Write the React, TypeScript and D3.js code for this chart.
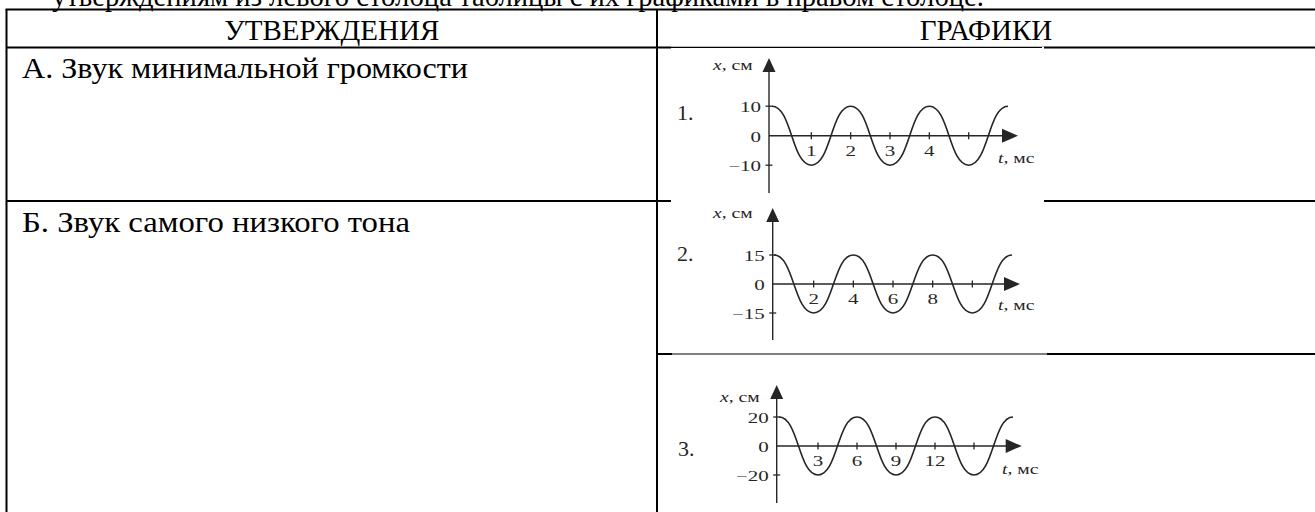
import React from 'react';
import * as d3 from 'd3';

const W = 1315;
const H = 512;

// тексты таблицы
const introLine = 'утверждениям из левого столбца таблицы с их графиками в правом столбце.';
const headerTitles = ['УТВЕРЖДЕНИЯ', 'ГРАФИКИ'];
const statements = ['А. Звук минимальной громкости', 'Б. Звук самого низкого тона'];

// данные графиков: экстремумы колебаний x(t)
const graphNames = ['1.', '2.', '3.'];
const amplitudes = [10, 15, 20];
const waveTimes1 = [0, 1, 2, 3, 4, 5, 6];
const waveValues1 = [10, -10, 10, -10, 10, -10, 10];
const waveTimes2 = [0, 2, 4, 6, 8, 10, 12];
const waveValues2 = [15, -15, 15, -15, 15, -15, 15];
const waveTimes3 = [0, 3, 6, 9, 12, 15, 18];
const waveValues3 = [20, -20, 20, -20, 20, -20, 20];
const timeTicks1 = [1, 2, 3, 4, 5];
const timeTicks2 = [2, 4, 6, 8, 10];
const timeTicks3 = [3, 6, 9, 12, 15];
const labelledTickCount = 4; // последнее деление без подписи
const axisNameX = 'x';
const axisUnitX = ', см';
const axisNameT = 't';
const axisUnitT = ', мс';

const waveTimes = [waveTimes1, waveTimes2, waveTimes3];
const waveValues = [waveValues1, waveValues2, waveValues3];
const timeTicks = [timeTicks1, timeTicks2, timeTicks3];

// расположение картинок-графиков (пиксели)
const boxes = [
  { left: 671, top: 46.5, right: 1044, bottom: 202, axisX: 769, t0: 772, t1: 1008, zeroY: 135.7, unit: 29.5, yTop: 58, yBottom: 193, xEnd: 1018, nameX: 677, nameY: 112, xLabX: 713, xLabY: 65, tLabX: 998, tLabY: 158 },
  { left: 671, top: 200, right: 1043, bottom: 353, axisX: 772.7, t0: 774, t1: 1012, zeroY: 284, unit: 29, yTop: 208, yBottom: 340, xEnd: 1020, nameX: 677, nameY: 253, xLabX: 713, xLabY: 213, tLabX: 998, tLabY: 305 },
  { left: 672, top: 353, right: 1047, bottom: 512, axisX: 776.7, t0: 779, t1: 1013, zeroY: 446, unit: 29, yTop: 385, yBottom: 503, xEnd: 1021.7, nameX: 678, nameY: 448, xLabX: 720, xLabY: 397, tLabX: 1002, tLabY: 469 },
];

const serif = '"Liberation Serif", "Times New Roman", serif';
const ink = '#262626';
const stretch = 1.4;

function Graph({ i }: { i: number }) {
  const b = boxes[i];
  const ts = waveTimes[i];
  const vs = waveValues[i];
  const A = amplitudes[i];
  const x = d3.scaleLinear().domain([0, ts[ts.length - 1]]).range([b.t0, b.t1]);
  const y = d3.scaleLinear().domain([-A, A]).range([b.zeroY + b.unit, b.zeroY - b.unit]);
  const line = d3
    .line<number>()
    .x((_, k) => x(ts[k]))
    .y((v) => y(v))
    .curve(d3.curveBumpX);
  const y0 = y(0);
  const yTicks = [A, 0, -A];
  const fmt = (v: number) => (v < 0 ? '\u2212' + Math.abs(v) : String(v));

  return (
    <g>
      <rect x={b.left} y={b.top} width={b.right - b.left} height={b.bottom - b.top} fill="#fff" />
      {/* оси */}
      <line x1={b.axisX} x2={b.axisX} y1={b.yTop + 10} y2={b.yBottom} stroke={ink} strokeWidth={1.4} />
      <polygon
        points={`${b.axisX},${b.yTop} ${b.axisX - 6.5},${b.yTop + 14} ${b.axisX + 6.5},${b.yTop + 14}`}
        fill={ink}
      />
      <line x1={b.axisX} x2={b.xEnd - 10} y1={y0} y2={y0} stroke={ink} strokeWidth={1.4} />
      <polygon
        points={`${b.xEnd},${y0} ${b.xEnd - 16},${y0 - 7} ${b.xEnd - 16},${y0 + 7}`}
        fill={ink}
      />
      {/* деления */}
      {timeTicks[i].map((t, k) => (
        <g key={'t' + t}>
          <line x1={x(t)} x2={x(t)} y1={y0 - 3.5} y2={y0 + 3.5} stroke={ink} strokeWidth={1.3} />
          {k < labelledTickCount && (
            <text
              transform={`translate(${x(t)},${y0 + 15}) scale(${stretch},1)`}
              textAnchor="middle"
              dominantBaseline="central"
              fontFamily={serif}
              fontSize={15}
              fill={ink}
            >
              {t}
            </text>
          )}
        </g>
      ))}
      {yTicks.map((v) => (
        <g key={'y' + v}>
          {v !== 0 && (
            <line x1={b.axisX - 3.5} x2={b.axisX + 3.5} y1={y(v)} y2={y(v)} stroke={ink} strokeWidth={1.3} />
          )}
          <text
            transform={`translate(${b.axisX - 8},${y(v) + 1}) scale(${stretch},1)`}
            textAnchor="end"
            dominantBaseline="central"
            fontFamily={serif}
            fontSize={15}
            fill={ink}
          >
            {fmt(v)}
          </text>
        </g>
      ))}
      {/* кривая */}
      <path d={line(vs) || ''} fill="none" stroke={ink} strokeWidth={1.6} />
      {/* подписи */}
      <text x={b.nameX} y={b.nameY} dominantBaseline="central" fontFamily={serif} fontSize={22} fill={ink}>
        {graphNames[i]}
      </text>
      <text
        transform={`translate(${b.xLabX},${b.xLabY}) scale(${stretch},1)`}
        dominantBaseline="central"
        fontFamily={serif}
        fontSize={14}
        fill={ink}
      >
        <tspan fontStyle="italic">{axisNameX}</tspan>
        {axisUnitX}
      </text>
      <text
        transform={`translate(${b.tLabX},${b.tLabY}) scale(${stretch},1)`}
        dominantBaseline="central"
        fontFamily={serif}
        fontSize={14}
        fill={ink}
      >
        <tspan fontStyle="italic">{axisNameT}</tspan>
        {axisUnitT}
      </text>
    </g>
  );
}

export default function App() {
  const left = 6.5;
  const mid = 657;
  const top = 9.5;
  const headBottom = 47.5;
  const rowAB = 201;
  const row23 = 354;

  return (
    <svg
      width={W}
      height={H}
      style={{ position: 'absolute', left: 0, top: 0, display: 'block', background: '#fff' }}
    >
      <text
        x={52}
        y={6}
        fontFamily={serif}
        fontSize={29}
        fill="#000"
        textLength={932}
        lengthAdjust="spacingAndGlyphs"
      >
        {introLine}
      </text>
      {/* сетка таблицы */}
      <g stroke="#000" strokeWidth={2}>
        <line x1={left - 1} x2={W} y1={top} y2={top} />
        <line x1={left} x2={left} y1={top} y2={H} />
        <line x1={mid} x2={mid} y1={top} y2={H} />
        <line x1={left} x2={W} y1={headBottom} y2={headBottom} />
        <line x1={left} x2={W} y1={rowAB} y2={rowAB} />
        <line x1={mid} x2={W} y1={row23} y2={row23} />
      </g>
      <text x={(left + mid) / 2} y={40} textAnchor="middle" fontFamily={serif} fontSize={29} fill="#000">
        {headerTitles[0]}
      </text>
      <text x={(mid + W) / 2} y={40} textAnchor="middle" fontFamily={serif} fontSize={29} fill="#000">
        {headerTitles[1]}
      </text>
      <text
        x={22}
        y={78}
        fontFamily={serif}
        fontSize={29}
        fill="#000"
        textLength={446}
        lengthAdjust="spacingAndGlyphs"
      >
        {statements[0]}
      </text>
      <text
        x={22}
        y={232}
        fontFamily={serif}
        fontSize={29}
        fill="#000"
        textLength={388}
        lengthAdjust="spacingAndGlyphs"
      >
        {statements[1]}
      </text>
      {boxes.map((_, i) => (
        <Graph key={i} i={i} />
      ))}
      {/* тонкие верхние края картинок */}
      <line x1={boxes[0].left} x2={boxes[0].right - 2} y1={headBottom} y2={headBottom} stroke="#000" strokeWidth={1} />
      <line x1={boxes[2].left} x2={boxes[2].right} y1={row23} y2={row23} stroke="#000" strokeWidth={1} />
    </svg>
  );
}
